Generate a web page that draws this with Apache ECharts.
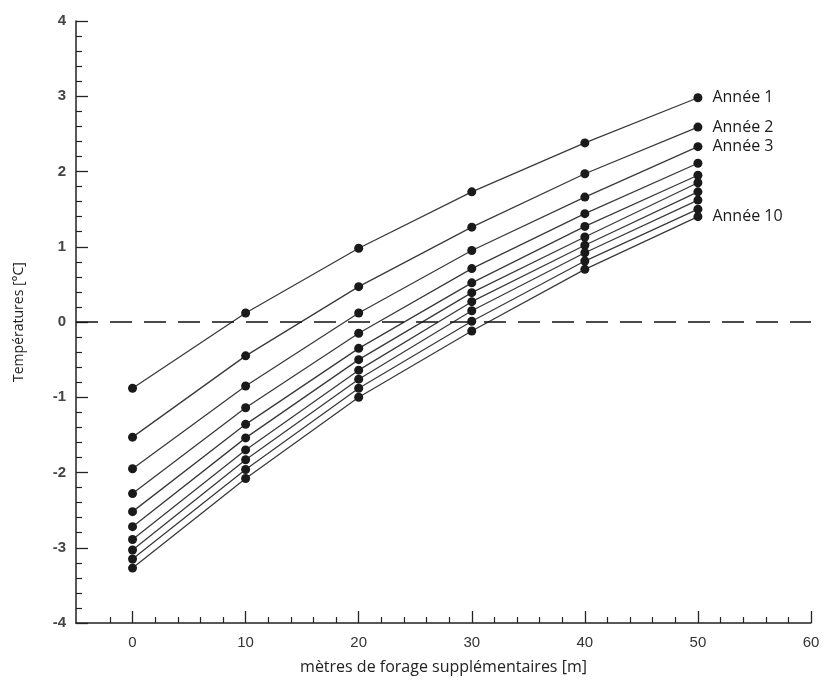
<!DOCTYPE html>
<html><head><meta charset="utf-8">
<script src="https://cdn.jsdelivr.net/npm/echarts@6/dist/echarts.min.js"></script>
<style>html,body{margin:0;padding:0;background:#fff}#c{width:828px;height:688px}</style>
</head><body><div id="c"></div>
<script>
var xValues = [0, 10, 20, 30, 40, 50];
var seriesNames = ['Année 1','Année 2','Année 3','Année 4','Année 5','Année 6','Année 7','Année 8','Année 9','Année 10'];
var year1  = [-0.88,  0.12,  0.98,  1.73, 2.38, 2.98];
var year2  = [-1.53, -0.45,  0.47,  1.26, 1.97, 2.59];
var year3  = [-1.95, -0.85,  0.12,  0.95, 1.66, 2.33];
var year4  = [-2.28, -1.14, -0.15,  0.71, 1.44, 2.11];
var year5  = [-2.52, -1.36, -0.35,  0.52, 1.27, 1.95];
var year6  = [-2.72, -1.54, -0.50,  0.39, 1.13, 1.85];
var year7  = [-2.89, -1.70, -0.64,  0.27, 1.02, 1.73];
var year8  = [-3.03, -1.83, -0.76,  0.15, 0.92, 1.62];
var year9  = [-3.15, -1.96, -0.88,  0.01, 0.81, 1.50];
var year10 = [-3.27, -2.08, -1.00, -0.12, 0.70, 1.40];
var labelledYears = ['Année 1','Année 2','Année 3','Année 10'];
var xMajorTicks = [0, 10, 20, 30, 40, 50, 60];
var xMinorTicks = [-2, 2, 4, 6, 8, 12, 14, 16, 18, 22, 24, 26, 28, 32, 34, 36, 38, 42, 44, 46, 48, 52, 54, 56, 58];
var refLevel = 0;
var refLabel = 'relarivement à\nun seul forage';
var X_MIN = -5, X_MAX = 60, Y_MIN = -4, Y_MAX = 4;

var allYears = [year1, year2, year3, year4, year5, year6, year7, year8, year9, year10];
var series = allYears.map(function (vals, i) {
  var name = seriesNames[i];
  var showLabel = labelledYears.indexOf(name) >= 0;
  return {
    name: name, type: 'line', xAxisIndex: 0, yAxisIndex: 0,
    data: xValues.map(function (x, j) {
      var item = { value: [x, vals[j]] };
      if (showLabel && j === xValues.length - 1) {
        item.label = { show: true, position: 'right', distance: 10, formatter: name,
          fontFamily: 'Open Sans', fontSize: 16, color: '#1a1a1a' };
      }
      return item;
    }),
    symbol: 'circle', symbolSize: 9,
    itemStyle: { color: '#1a1a1a' },
    lineStyle: { color: '#3a3a3a', width: 1.3 }
  };
});
// dashed reference line ("relative to a single borehole")
series.push({
  name: 'ref', type: 'line', silent: true, symbol: 'none',
  lineStyle: { color: '#111', type: [22, 12], width: 1.6 },
  data: [
    { value: [X_MIN, refLevel] },
    { value: [X_MAX, refLevel], label: { show: true, position: 'left', distance: 16, formatter: refLabel,
      fontFamily: 'Open Sans', fontSize: 16, color: '#1a1a1a', lineHeight: 31 } }
  ]
});

var chart = echarts.init(document.getElementById('c'));
chart.setOption({
  animation: false,
  grid: { left: 76, right: 17, top: 21, bottom: 65 },
  xAxis: [{
    type: 'value', min: X_MIN, max: X_MAX,
    name: 'mètres de forage supplémentaires [m]', nameLocation: 'middle', nameGap: 36,
    nameTextStyle: { fontFamily: 'Open Sans', fontSize: 16, color: '#222' },
    axisLine: { onZero: false, lineStyle: { color: '#222', width: 1.5 } },
    axisTick: { show: true, inside: true, length: 12, customValues: xMajorTicks, lineStyle: { color: '#222', width: 1.3 } },
    axisLabel: { customValues: xMajorTicks, margin: 12, fontSize: 15, color: '#333' },
    splitLine: { show: false }
  }, {
    type: 'value', min: X_MIN, max: X_MAX, position: 'bottom',
    axisLine: { show: false, onZero: false },
    axisTick: { show: true, inside: true, length: 6, customValues: xMinorTicks, lineStyle: { color: '#222', width: 1.2 } },
    axisLabel: { show: false },
    splitLine: { show: false }
  }],
  yAxis: {
    type: 'value', min: Y_MIN, max: Y_MAX, interval: 1,
    name: 'Températures [°C]', nameLocation: 'middle', nameGap: 50, nameRotate: 90,
    nameTextStyle: { fontFamily: 'Open Sans', fontSize: 14, color: '#222' },
    axisLine: { show: true, onZero: false, lineStyle: { color: '#222', width: 1.5 } },
    axisTick: { show: true, inside: true, length: 12, lineStyle: { color: '#222', width: 1.3 } },
    minorTick: { show: true, splitNumber: 5, length: 6, lineStyle: { color: '#222', width: 1.2 } },
    axisLabel: { margin: 10, fontWeight: 'bold', fontSize: 15, color: '#444' },
    splitLine: { show: false }
  },
  series: series
});
</script></body></html>
